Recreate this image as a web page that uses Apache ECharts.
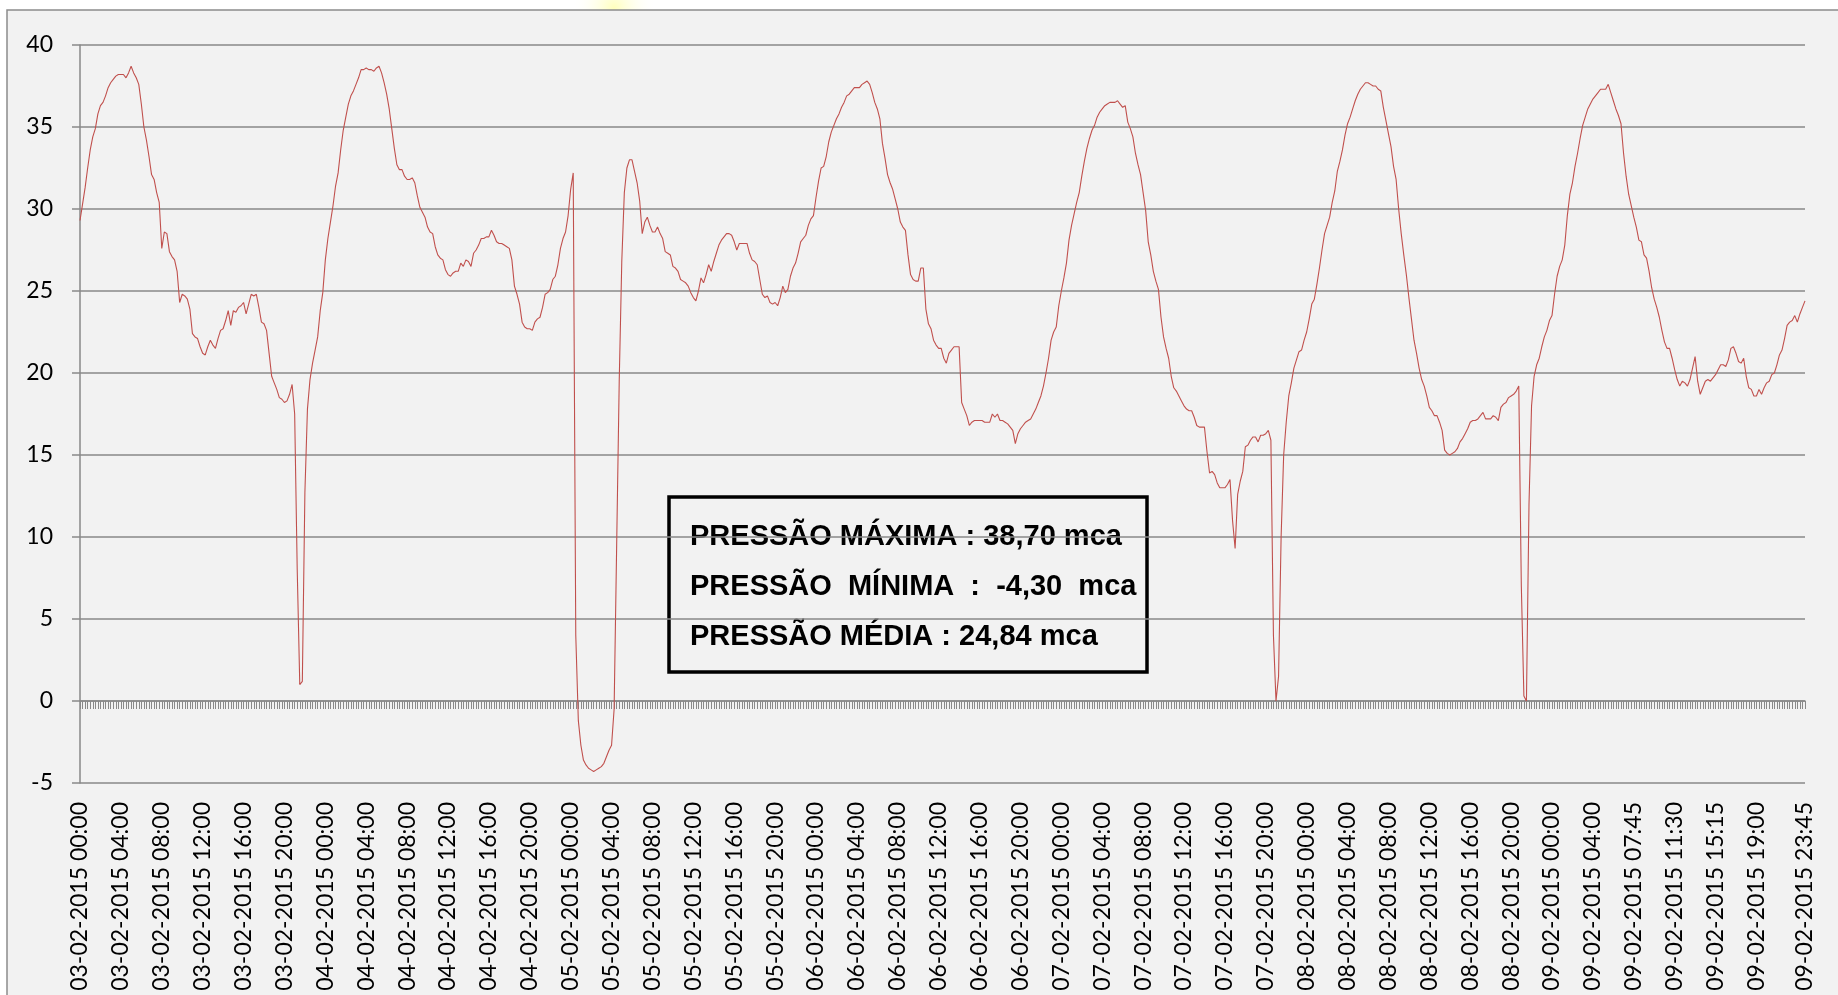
<!DOCTYPE html>
<html>
<head>
<meta charset="utf-8">
<title>Pressão</title>
<script src="https://cdn.jsdelivr.net/npm/echarts@6/dist/echarts.min.js"></script>
<style>
  html, body { margin: 0; padding: 0; background: #fff; }
  #myChart { width: 1838px; height: 995px; }
</style>
</head>
<body>
<div id="myChart"></div>
<script>
// leituras a cada 15 min (mca)
const pressure03 = [
  29.3, 30.3, 31.3, 32.5, 33.6, 34.4, 34.9, 35.8, 36.3, 36.5, 36.9, 37.4, 37.7, 37.9, 38.1, 38.2,
  38.2, 38.2, 38.0, 38.3, 38.7, 38.3, 38.0, 37.6, 36.4, 35.0, 34.2, 33.2, 32.1, 31.8, 31.0, 30.4,
  27.6, 28.6, 28.5, 27.4, 27.1, 26.9, 26.2, 24.3, 24.8, 24.7, 24.5, 23.9, 22.4, 22.2, 22.1, 21.6,
  21.2, 21.1, 21.6, 22.0, 21.7, 21.5, 22.1, 22.6, 22.7, 23.2, 23.8, 22.9, 23.8, 23.7, 24.0, 24.1,
  24.3, 23.6, 24.2, 24.8, 24.7, 24.8, 24.0, 23.1, 23.0, 22.6, 21.2, 19.8, 19.4, 19.0, 18.5, 18.4,
  18.2, 18.3, 18.7, 19.3, 17.5, 8.0, 1.0, 1.2, 12.7, 17.8, 19.6, 20.6, 21.4, 22.2, 23.8, 24.9
];
const pressure04 = [
  26.9, 28.2, 29.2, 30.2, 31.4, 32.2, 33.6, 34.8, 35.6, 36.4, 36.9, 37.2, 37.6, 38.0, 38.5, 38.5,
  38.6, 38.5, 38.5, 38.4, 38.6, 38.7, 38.3, 37.7, 37.0, 36.1, 34.9, 33.7, 32.7, 32.4, 32.4, 32.0,
  31.8, 31.8, 31.9, 31.6, 30.8, 30.1, 29.8, 29.5, 28.9, 28.6, 28.5, 27.7, 27.2, 27.0, 26.9, 26.3,
  26.0, 25.9, 26.1, 26.2, 26.2, 26.7, 26.5, 26.9, 26.8, 26.5, 27.3, 27.5, 27.8, 28.2, 28.2, 28.3,
  28.3, 28.7, 28.4, 28.0, 27.9, 27.9, 27.8, 27.7, 27.6, 26.9, 25.3, 24.8, 24.2, 23.1, 22.8, 22.7,
  22.7, 22.6, 23.1, 23.3, 23.4, 24.0, 24.8, 24.9, 25.1, 25.7, 25.9, 26.6, 27.6, 28.2, 28.6, 29.6
];
const pressure05 = [
  31.2, 32.2, 4.0, -1.2, -2.7, -3.6, -3.9, -4.1, -4.2, -4.3, -4.2, -4.1, -4.0, -3.8, -3.4, -3.0,
  -2.7, -0.5, 9.5, 19.5, 26.8, 31.0, 32.5, 33.0, 33.0, 32.3, 31.6, 30.5, 28.5, 29.2, 29.5, 29.0,
  28.6, 28.6, 28.9, 28.5, 28.2, 27.4, 27.3, 27.2, 26.5, 26.4, 26.2, 25.7, 25.6, 25.5, 25.3, 24.9,
  24.6, 24.4, 25.0, 25.8, 25.5, 26.0, 26.6, 26.2, 26.8, 27.3, 27.8, 28.1, 28.3, 28.5, 28.5, 28.4,
  28.0, 27.5, 27.9, 27.9, 27.9, 27.9, 27.3, 26.9, 26.8, 26.6, 25.7, 24.8, 24.6, 24.7, 24.3, 24.2,
  24.3, 24.1, 24.6, 25.3, 24.9, 25.1, 25.9, 26.4, 26.7, 27.3, 28.0, 28.2, 28.4, 29.0, 29.4, 29.6
];
const pressure06 = [
  30.7, 31.7, 32.5, 32.6, 33.2, 34.1, 34.7, 35.1, 35.5, 35.8, 36.2, 36.5, 36.9, 37.0, 37.2, 37.4,
  37.4, 37.4, 37.6, 37.7, 37.8, 37.6, 37.1, 36.5, 36.1, 35.5, 34.0, 33.1, 32.1, 31.6, 31.2, 30.6,
  30.0, 29.2, 28.9, 28.7, 27.2, 26.0, 25.7, 25.6, 25.6, 26.4, 26.4, 23.9, 23.0, 22.7, 22.0, 21.7,
  21.5, 21.5, 20.9, 20.6, 21.2, 21.4, 21.6, 21.6, 21.6, 18.2, 17.8, 17.4, 16.8, 17.0, 17.1, 17.1,
  17.1, 17.1, 17.0, 17.0, 17.0, 17.5, 17.3, 17.5, 17.1, 17.1, 17.0, 16.9, 16.7, 16.5, 15.7, 16.3,
  16.6, 16.8, 17.0, 17.1, 17.2, 17.5, 17.8, 18.2, 18.6, 19.2, 20.0, 20.9, 22.0, 22.5, 22.8, 24.1
];
const pressure07 = [
  25.0, 25.8, 26.7, 28.1, 29.0, 29.7, 30.4, 31.0, 32.0, 32.9, 33.7, 34.3, 34.8, 35.1, 35.6, 35.9,
  36.1, 36.3, 36.4, 36.5, 36.5, 36.5, 36.6, 36.4, 36.2, 36.3, 35.3, 34.9, 34.4, 33.4, 32.7, 32.1,
  31.0, 29.9, 28.0, 27.2, 26.2, 25.6, 25.1, 23.4, 22.2, 21.5, 20.9, 19.8, 19.1, 18.9, 18.6, 18.3,
  18.0, 17.8, 17.7, 17.7, 17.3, 16.8, 16.7, 16.7, 16.7, 15.2, 13.9, 14.0, 13.8, 13.3, 13.0, 13.0,
  13.0, 13.2, 13.5, 11.0, 9.3, 12.6, 13.4, 14.0, 15.5, 15.6, 15.9, 16.1, 16.1, 15.8, 16.2, 16.2,
  16.3, 16.5, 15.9, 4.0, 0.0, 1.5, 10.0, 15.0, 17.0, 18.6, 19.4, 20.3, 20.8, 21.3, 21.4, 22.0
];
const pressure08 = [
  22.5, 23.3, 24.2, 24.5, 25.4, 26.4, 27.5, 28.5, 29.0, 29.5, 30.4, 31.1, 32.3, 32.9, 33.6, 34.5,
  35.2, 35.6, 36.1, 36.6, 37.0, 37.3, 37.5, 37.7, 37.7, 37.6, 37.5, 37.5, 37.3, 37.2, 36.2, 35.4,
  34.6, 33.8, 32.6, 31.8, 30.0, 28.5, 27.2, 26.0, 24.6, 23.3, 22.0, 21.2, 20.3, 19.6, 19.2, 18.6,
  17.9, 17.7, 17.4, 17.4, 17.0, 16.5, 15.3, 15.1, 15.0, 15.1, 15.2, 15.4, 15.8, 16.0, 16.3, 16.6,
  17.0, 17.1, 17.1, 17.2, 17.4, 17.6, 17.2, 17.2, 17.2, 17.4, 17.3, 17.1, 17.9, 18.1, 18.2, 18.5,
  18.6, 18.7, 18.9, 19.2, 7.0, 0.3, 0.0, 12.0, 18.0, 19.8, 20.5, 20.9, 21.6, 22.2, 22.6, 23.2
];
const pressure09 = [
  23.5, 24.8, 25.9, 26.5, 26.9, 27.8, 29.6, 30.9, 31.6, 32.6, 33.4, 34.3, 35.1, 35.6, 36.1, 36.4,
  36.7, 36.9, 37.1, 37.3, 37.3, 37.3, 37.6, 37.1, 36.6, 36.1, 35.7, 35.2, 33.4, 32.0, 30.9, 30.2,
  29.5, 28.9, 28.1, 28.0, 27.2, 27.0, 26.2, 25.2, 24.5, 24.0, 23.4, 22.6, 21.9, 21.5, 21.5, 20.9,
  20.2, 19.6, 19.2, 19.5, 19.4, 19.2, 19.6, 20.3, 21.0, 19.5, 18.7, 19.1, 19.5, 19.6, 19.5, 19.7,
  19.9, 20.2, 20.5, 20.5, 20.4, 20.8, 21.5, 21.6, 21.2, 20.7, 20.6, 20.9, 19.8, 19.1, 19.0, 18.6,
  18.6, 19.0, 18.7, 19.1, 19.4, 19.5, 19.9, 20.0, 20.5, 21.1, 21.4, 22.1, 22.9, 23.1, 23.2, 23.5,
  23.1, 23.6, 24.0, 24.4
];

const days = ['03', '04', '05', '06', '07', '08', '09'];
// registros repetidos no dia 09
const repeatedStamps = ['09-02-2015 05:00', '09-02-2015 09:00', '09-02-2015 13:00', '09-02-2015 17:00'];

const boxLines = [
  'PRESSÃO MÁXIMA : 38,70 mca',
  'PRESSÃO  MÍNIMA  :  -4,30  mca',
  'PRESSÃO MÉDIA : 24,84 mca'
];

const pad = n => (n < 10 ? '0' : '') + n;
const categories = [];
days.forEach(d => {
  for (let h = 0; h < 24; h++) {
    for (let m = 0; m < 60; m += 15) {
      const stamp = d + '-02-2015 ' + pad(h) + ':' + pad(m);
      categories.push(stamp);
      if (repeatedStamps.indexOf(stamp) >= 0) categories.push(stamp);
    }
  }
});
const values = [].concat(pressure03, pressure04, pressure05, pressure06, pressure07, pressure08, pressure09);
const last = categories.length - 1;

const gridGray = '#898989';
const labelFont = 'Lato';

let myChart = echarts.init(document.getElementById('myChart'));
myChart.setOption({
  backgroundColor: '#ffffff',
  animation: false,
  graphic: [
    {
      type: 'circle', z: -20, silent: true,
      shape: { cx: 614, cy: 8, r: 42 },
      style: {
        fill: new echarts.graphic.RadialGradient(0.5, 0.5, 0.5, [
          { offset: 0, color: 'rgba(255,255,185,0.95)' },
          { offset: 1, color: 'rgba(255,255,255,0)' }
        ])
      }
    },
    {
      type: 'rect', z: -10, silent: true,
      shape: { x: 7, y: 10, width: 1860, height: 1010 },
      style: { fill: '#f2f2f2', stroke: '#8c8c8c', lineWidth: 1.5 }
    },
    {
      type: 'group', z: 10,
      children: [
        {
          type: 'rect',
          shape: { x: 669, y: 497, width: 478, height: 175 },
          style: { fill: '#f2f2f2', stroke: '#000', lineWidth: 3.5 }
        },
        ...boxLines.map((t, k) => ({
          type: 'text',
          x: 690, y: 537 + k * 50,
          style: {
            text: t, fill: '#000',
            font: 'bold 29px "Liberation Sans", Arial, sans-serif',
            textVerticalAlign: 'middle'
          }
        }))
      ]
    }
  ],
  grid: { left: 80, right: 33, top: 45, bottom: 212 },
  xAxis: [
    {
      type: 'category',
      data: categories,
      boundaryGap: false,
      position: 'bottom',
      axisLine: { show: false, onZero: false },
      axisTick: { show: false },
      splitLine: { show: false },
      axisLabel: {
        // a cada 16 registros, mais o último
        interval: idx => idx === last || (idx % 16 === 0 && last - idx > 8),
        rotate: 90,
        margin: 19,
        fontSize: 23,
        fontFamily: labelFont,
        color: '#000'
      }
    },
    {
      type: 'category',
      data: categories,
      boundaryGap: false,
      position: 'bottom',
      axisLine: { show: true, onZero: true, lineStyle: { color: gridGray, width: 1.5 } },
      axisTick: { show: true, interval: 0, length: 8, lineStyle: { color: gridGray, width: 1 } },
      axisLabel: { show: false },
      splitLine: { show: false }
    }
  ],
  yAxis: {
    type: 'value',
    min: -5,
    max: 40,
    interval: 5,
    axisLine: { show: true, lineStyle: { color: gridGray, width: 1.5 } },
    axisTick: { show: true, length: 8, lineStyle: { color: gridGray, width: 1.5 } },
    splitLine: { show: true, lineStyle: { color: gridGray, width: 1.5 } },
    axisLabel: { fontSize: 23, fontFamily: labelFont, color: '#000', margin: 27 }
  },
  series: [{
    name: 'Pressão',
    type: 'line',
    xAxisIndex: 0,
    data: values,
    showSymbol: false,
    symbol: 'none',
    lineStyle: { color: '#c0504d', width: 1.1 },
    z: 5
  }]
});
</script>
</body>
</html>
